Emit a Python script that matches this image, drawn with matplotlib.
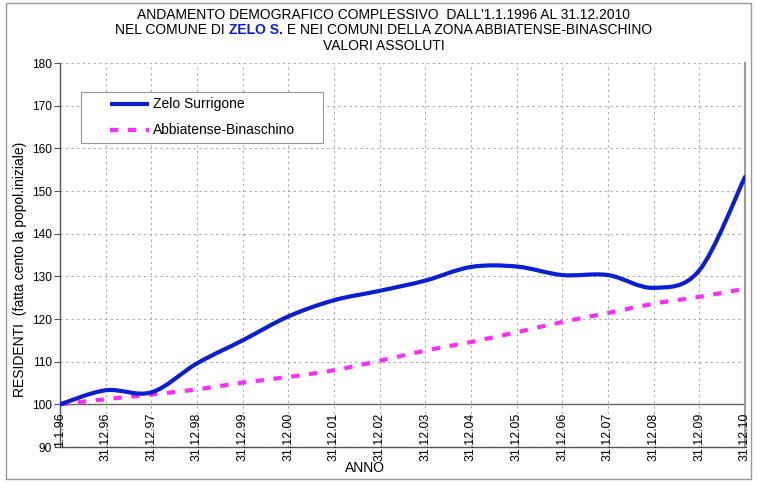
import numpy as np
import matplotlib
matplotlib.use("Agg")
import matplotlib.pyplot as plt
from matplotlib.path import Path
from matplotlib.patches import PathPatch, Rectangle
from matplotlib.lines import Line2D

plt.rcParams['font.family'] = ['Liberation Sans', 'DejaVu Sans']

# categories on the x axis
dates = ["1.1.96", "31.12.96", "31.12.97", "31.12.98", "31.12.99", "31.12.00",
         "31.12.01", "31.12.02", "31.12.03", "31.12.04", "31.12.05", "31.12.06",
         "31.12.07", "31.12.08", "31.12.09", "31.12.10"]

# index numbers (initial population = 100)
zelo = [100, 103.3, 102.8, 109.6, 115.0, 120.6, 124.4, 126.6, 129.0, 132.2,
        132.3, 130.3, 130.3, 127.3, 131.4, 153.3]
abbiatense = [100, 101.2, 102.3, 103.5, 105.1, 106.4, 108.0, 110.2, 112.6,
              114.6, 116.9, 119.3, 121.4, 123.6, 125.2, 127.1]
names = ["Zelo Surrigone", "Abbiatense-Binaschino"]

BLUE = "#0A1ED2"
MAGENTA = "#FF2BFF"
DASH = (0, (2.0, 2.3))


def smooth_path(xs, ys):
    """Excel-like smoothed line: bezier segments through every point"""
    pts = np.column_stack([xs, ys]).astype(float)
    n = len(pts)
    verts = [pts[0]]
    codes = [Path.MOVETO]
    for i in range(n - 1):
        p0 = pts[i - 1] if i > 0 else pts[i]
        p1 = pts[i]
        p2 = pts[i + 1]
        p3 = pts[i + 2] if i + 2 < n else pts[i + 1]
        c1 = p1 + (p2 - p0) / 6.0
        c2 = p2 - (p3 - p1) / 6.0
        verts += [c1, c2, p2]
        codes += [Path.CURVE4] * 3
    return Path(verts, codes)


fig = plt.figure(figsize=(7.57, 4.83), dpi=100)
ax = fig.add_axes([60 / 757, 1 - 447 / 483, 685 / 757, 384 / 483])

x = np.arange(len(dates))

ax.add_patch(PathPatch(smooth_path(x, zelo), fill=False, edgecolor=BLUE,
                       lw=3.0, capstyle='round', zorder=4))
ax.add_patch(PathPatch(smooth_path(x, abbiatense), fill=False, edgecolor=MAGENTA,
                       lw=3.0, linestyle=DASH, zorder=3))

ax.set_xlim(0, len(dates) - 1)
ax.set_ylim(90, 180)
ax.set_yticks(np.arange(90, 181, 10))
ax.set_xticks(x)
ax.set_xticklabels([])
ax.tick_params(axis='x', length=0)
ax.tick_params(axis='y', length=4, width=0.8, color='#555555', labelsize=8.6,
               pad=2)

ax.grid(True, color='#aaaaaa', linestyle=(0, (2, 3)), linewidth=0.8)
ax.set_axisbelow(True)
for side in ['left', 'bottom']:
    ax.spines[side].set_color('#555555')
    ax.spines[side].set_linewidth(1.0)
ax.spines['top'].set_visible(False)
ax.spines['right'].set_color('#999999')
ax.spines['right'].set_linewidth(1.5)

# category axis crossing at 100
ax.axhline(100, color='#666666', lw=1.0, zorder=2)

# category labels below the 100 line
for i, lab in enumerate(dates):
    ax.annotate(lab, xy=(i, 100), xycoords='data', xytext=(0, -6),
                textcoords='offset points', rotation=90, ha='center', va='top',
                fontsize=8.9)

fig.text(20 / 757, 1 - 269 / 483, "RESIDENTI  (fatta cento la popol.iniziale)",
         rotation=90, ha='center', va='center', fontsize=10)
fig.text(365 / 757, 1 - 467.5 / 483, "ANNO", ha='center', va='center',
         fontsize=10)

# legend drawn by hand to match the box layout
def px(xp, yp):
    return ((xp - 60) / 685, (447 - yp) / 384)

x0, y0 = px(81, 143)
x1, y1 = px(323, 92)
ax.add_patch(Rectangle((x0, y0), x1 - x0, y1 - y0, transform=ax.transAxes,
                       facecolor='white', edgecolor='#999999', lw=0.8,
                       zorder=6))
styles = [dict(color=BLUE, lw=3.0, solid_capstyle='butt'),
          dict(color=MAGENTA, lw=3.0, linestyle=DASH)]
for row, (name, st) in enumerate(zip(names, styles)):
    yrow = 104 + row * 26
    ha, ya = px(110, yrow)
    hb, _ = px(149, yrow)
    ax.add_line(Line2D([ha, hb], [ya, ya], transform=ax.transAxes, zorder=7,
                       **st))
    tx, _ = px(153, yrow)
    ax.text(tx, ya, name, transform=ax.transAxes, ha='left', va='center',
            fontsize=10, zorder=7)

# title, three lines, with "ZELO S." in blue bold
fig.text(0.507, 1 - 15 / 483, "ANDAMENTO DEMOGRAFICO COMPLESSIVO  DALL'1.1.1996 AL 31.12.2010",
         ha='center', va='center', fontsize=10)
fig.text(0.507, 1 - 45.5 / 483, "VALORI ASSOLUTI", ha='center', va='center',
         fontsize=10)

parts = [("NEL COMUNE DI ", 'black', 'normal'),
         ("ZELO S.", BLUE, 'bold'),
         (" E NEI COMUNI DELLA ZONA ABBIATENSE-BINASCHINO", 'black', 'normal')]
renderer = fig.canvas.get_renderer()
texts = []
for s, c, w in parts:
    t = fig.text(0, 1 - 30.5 / 483, s, color=c, fontweight=w, fontsize=10,
                 ha='left', va='center')
    texts.append(t)
widths = [t.get_window_extent(renderer).width for t in texts]
total = sum(widths)
start = 0.507 * 757 - total / 2
for t, wd in zip(texts, widths):
    t.set_x(start / 757)
    start += wd

# outer frame
fig.patches.append(Rectangle((6 / 757, 4 / 483), 745 / 757, 476 / 483,
                             transform=fig.transFigure, fill=False,
                             edgecolor='#999999', lw=1.0))

fig.savefig("out.png", dpi=100)
